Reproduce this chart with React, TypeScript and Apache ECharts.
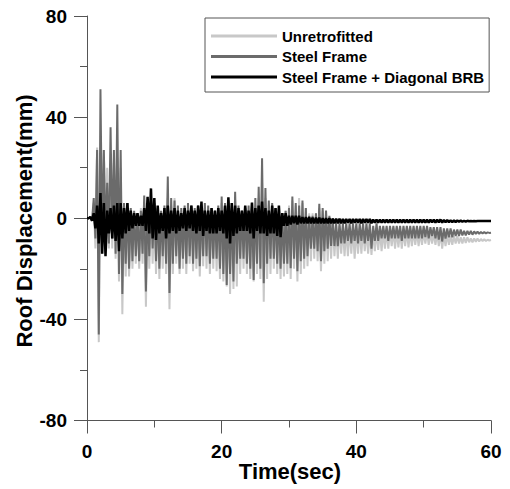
import { useEffect, useRef } from "react";
import * as echarts from "echarts";

// Sample spacing of the digitised records (seconds)
const SAMPLE_STEP = 0.25;

const seriesNames = ["Unretrofitted", "Steel Frame", "Steel Frame + Diagonal BRB"];
const seriesColors = ["#c8c8c8", "#6b6b6b", "#000000"];

// Roof displacement (mm), alternating peak / trough every 0.25 s
const unretrofitted = [
  0, 0, 0.5, -1, 6, -12, 28, -49,          // 0-2
  20, -14, 27, -8, 20, -12, 22, -12,       // 2-4
  22, -16, 24, -25, 20, -38, 5, -23,       // 4-6
  4, -23, 3, -20, 2, -18, 2, -20,          // 6-8
  4, -18, 6, -35, 3, -20, 4, -18,          // 8-10
  4, -22, 3, -24, 2, -20, 4, -22,          // 10-12
  8, -36, 5, -22, 8, -18, 4, -22,          // 12-14
  3, -20, 4, -22, 5, -18, 3, -21,          // 14-16
  3, -20, 4, -23, 3, -19, 4, -20,          // 16-18
  3, -22, 3, -20, 2, -21, 4, -24,          // 18-20
  6, -25, 4, -27, 5, -30, 4, -28,          // 20-22
  7, -27, 4, -22, 2, -20, 3, -22,          // 22-24
  3, -24, 4, -25, 5, -22, 8, -24,          // 24-26
  14, -33, 8, -24, 5, -22, 4, -20,         // 26-28
  3, -22, 2, -24, 2, -23, 3, -22,          // 28-30
  5, -24, 7, -20, 5, -25, 8, -22,          // 30-32
  6, -20, 4, -19, 2, -17, 2, -16,          // 32-34
  2, -17, 4, -21, 3, -18, 2, -17,          // 34-36
  0, -16, -1, -15, -3, -16, -3, -14,       // 36-38
  -4, -15, -4, -15, -4, -14, -4, -16,      // 38-40
  -4, -14, -4, -14, -4, -13, -5, -14,      // 40-42
  -5, -14.5, -5, -13, -5, -12.5, -5, -13,  // 42-44
  -5, -12, -5, -12, -5, -11, -5, -12,      // 44-46
  -5, -11.5, -5, -12, -5, -11, -5, -11.5,  // 46-48
  -5, -11, -5, -10.5, -5.5, -11, -5.5, -10.5, // 48-50
  -5.5, -10, -5.5, -10.5, -6, -10, -6, -10.5, // 50-52
  -6, -11, -6, -12, -6.5, -11, -6.5, -10.5,   // 52-54
  -7, -10.5, -7, -10, -7, -10, -7.5, -10,     // 54-56
  -7.5, -9.8, -7.5, -9.5, -8, -9.5, -8, -9.3, // 56-58
  -8, -9.2, -8.2, -9, -8.3, -9, -8.5, -8.8,   // 58-60
  -8.6,
];

const steelFrame = [
  0, 0, 0.5, -1, 8, -8, 27, -46,           // 0-2
  51, -10, 27, -6, 14, -10, 36, -8,        // 2-4
  27, -14, 45, -22, 27, -30, 6, -18,       // 4-6
  6, -20, 4, -17, 3, -15, 2, -17,          // 6-8
  3, -14, 9, -29, 6, -15, 8, -12,          // 8-10
  6, -17, 4, -20, 3, -15, 5, -18,          // 10-12
  16.5, -29.6, 8, -18, 7, -15, 5, -20,     // 12-14
  4, -16, 5, -18, 6, -15, 5, -18,          // 14-16
  4, -16, 5, -19, 4, -15, 6, -15,          // 16-18
  5, -18, 4, -16, 3, -16, 5, -20,          // 18-20
  8.6, -22, 6, -26.4, 7, -22, 5, -25,      // 20-22
  10.5, -18, 5, -16, 3, -16, 4, -18,       // 22-24
  5, -20, 6, -24.4, 8, -18, 12.5, -20,     // 24-26
  23.7, -25.7, 12, -18, 7, -16, 6, -16,    // 26-28
  4, -18, 3, -20, 2, -18, 3, -18,          // 28-30
  4, -19.8, 8.6, -16, 6, -21, 5, -17,      // 30-32
  7, -16, 4, -15, 1, -12, 1, -12,          // 32-34
  2, -13, 5.7, -17, 4, -13, 3, -12,        // 34-36
  1, -11, 0, -11, -2, -11, -2, -10,        // 36-38
  -2, -10, -2, -9, -2, -10, -2, -9,        // 38-40
  -2, -10, -2, -9, -2, -10, -2, -9,        // 40-42
  -2, -12, -3, -9, -2, -9, -3, -8,         // 42-44
  -3, -8, -3, -9, -3, -8, -3, -8,          // 44-46
  -3, -8, -3, -9, -3, -8, -3, -8,          // 46-48
  -3, -8, -3, -8, -3, -8, -3, -8,          // 48-50
  -3, -7.5, -3, -8, -3.5, -7, -3.5, -8,    // 50-52
  -3.5, -8.5, -3.5, -9.2, -4, -8, -4, -7.5, // 52-54
  -4, -7.5, -4.5, -7, -4.5, -7, -4.5, -6.8, // 54-56
  -5, -6.8, -5, -6.5, -5, -6.5, -5.2, -6.2, // 56-58
  -5.3, -6.2, -5.4, -6, -5.5, -6, -5.6, -5.8, // 58-60
  -5.7,
];

const diagonalBrb = [
  0, 0, 0.5, -1, 2, -4, 5, -10,            // 0-2
  10, -14, 6, -15, 3, -6, 4, -8,           // 2-4
  5, -9, 6, -13, 6, -8, 4, -6,             // 4-6
  6, -5, 3, -4, 2, -3, 2, -3,              // 6-8
  1, -3, 4, -5, 8.5, -6, 11.8, -8,         // 8-10
  8, -8.6, 5, -6, 2, -5, 4, -8,            // 10-12
  5, -6, 3, -5, 4, -6, 3, -5,              // 12-14
  2, -4, 4, -5, 3, -4, 5, -5,              // 14-16
  3, -6, 5, -5, 6.6, -7, 3, -5,            // 16-18
  3, -6, 4, -6, 3, -6, 4, -5,              // 18-20
  3, -6, 5, -8, 8.3, -10, 6, -7,           // 20-22
  5, -6, 4, -5, 3, -5, 5, -5,              // 22-24
  3, -6, 6.2, -8, 4, -5, 5, -6,            // 24-26
  6.6, -6, 4, -7, 3, -6, 5, -6,            // 26-28
  4, -7, 5, -7.5, 2, -3, 2, -3,            // 28-30
  1, -2.5, 1, -2, 1, -2.5, 1, -2,          // 30-32
  0.5, -2, 0.5, -2, 0.5, -2, 0.3, -2,      // 32-34
  0.3, -2, 0.3, -2, 0, -2, 0, -2,          // 34-36
  0, -2, -0.2, -2, -0.2, -2, -0.2, -2,     // 36-38
  -0.3, -2, -0.3, -1.8, -0.3, -2, -0.3, -1.8,     // 38-40
  -0.3, -1.8, -0.3, -2, -0.3, -1.8, -0.3, -1.8,   // 40-42
  -0.3, -2, -0.5, -1.8, -0.5, -1.8, -0.5, -1.8,   // 42-44
  -0.5, -1.8, -0.5, -1.8, -0.5, -1.8, -0.5, -1.8, // 44-46
  -0.5, -1.8, -0.5, -1.8, -0.5, -1.8, -0.5, -1.8, // 46-48
  -0.5, -1.8, -0.5, -1.7, -0.5, -1.8, -0.5, -1.7, // 48-50
  -0.6, -1.7, -0.6, -1.7, -0.6, -1.6, -0.6, -1.7, // 50-52
  -0.6, -1.6, -0.5, -1.7, -0.7, -1.6, -0.7, -1.6, // 52-54
  -0.8, -1.5, -0.8, -1.5, -0.9, -1.4, -0.9, -1.4, // 54-56
  -1, -1.3, -1, -1.2, -1.1, -1.2, -1.1, -1.2,     // 56-58
  -1.1, -1.1, -1.1, -1.1, -1.1, -1.1, -1.1, -1.1, // 58-60
  -1.1,
];

const X_MIN = 0;
const X_MAX = 60;
const X_INTERVAL = 20;
const Y_MIN = -80;
const Y_MAX = 80;
const Y_INTERVAL = 40;

const FONT = '"Liberation Sans", Arial, sans-serif';
const AXIS_COLOR = "#555555";

const toPairs = (vals: number[]) => vals.map((v, i) => [i * SAMPLE_STEP, v]);

export default function App() {
  const ref = useRef<HTMLDivElement>(null);

  useEffect(() => {
    document.body.style.margin = "0";
    if (!ref.current) return;
    const chart = echarts.init(ref.current, undefined, { renderer: "svg" });
    const allData = [unretrofitted, steelFrame, diagonalBrb];
    const widths = [2, 2, 2.5];

    chart.setOption({
      animation: false,
      backgroundColor: "#ffffff",
      grid: { left: 87, right: 19, top: 16, bottom: 68.5, containLabel: false },
      legend: {
        orient: "vertical",
        left: 205,
        top: 18,
        padding: [10.5, 5, 7.5, 6],
        itemGap: 5.5,
        itemWidth: 66,
        itemHeight: 3,
        icon: "rect",
        borderColor: AXIS_COLOR,
        borderWidth: 1,
        borderRadius: 0,
        backgroundColor: "#ffffff",
        textStyle: { fontSize: 15, fontWeight: "bold", color: "#000", fontFamily: FONT, lineHeight: 15 },
        data: seriesNames,
      },
      xAxis: {
        type: "value",
        min: X_MIN,
        max: X_MAX,
        interval: X_INTERVAL,
        axisLine: { show: true, onZero: false, lineStyle: { color: AXIS_COLOR, width: 1 } },
        axisTick: { show: true, length: 13, lineStyle: { color: AXIS_COLOR, width: 1 } },
        minorTick: { show: true, splitNumber: 2, length: 7, lineStyle: { color: AXIS_COLOR, width: 1 } },
        splitLine: { show: false },
        axisLabel: { margin: 21, fontSize: 19, fontWeight: "bold", color: "#000", fontFamily: FONT },
      },
      yAxis: {
        type: "value",
        min: Y_MIN,
        max: Y_MAX,
        interval: Y_INTERVAL,
        axisLine: { show: true, onZero: false, lineStyle: { color: AXIS_COLOR, width: 1 } },
        axisTick: { show: true, length: 13, lineStyle: { color: AXIS_COLOR, width: 1 } },
        minorTick: { show: true, splitNumber: 2, length: 7, lineStyle: { color: AXIS_COLOR, width: 1 } },
        splitLine: { show: false },
        axisLabel: { margin: 20, fontSize: 19, fontWeight: "bold", color: "#000", fontFamily: FONT },
      },
      graphic: [
        {
          type: "text",
          x: 290,
          y: 471,
          style: {
            text: "Time(sec)",
            font: `bold 22px ${FONT}`,
            fill: "#000",
            textAlign: "center",
            textVerticalAlign: "middle",
            align: "center",
            verticalAlign: "middle",
          },
        },
        {
          type: "text",
          x: 24,
          y: 221,
          rotation: Math.PI / 2,
          style: {
            text: "Roof Displacement(mm)",
            font: `bold 22px ${FONT}`,
            fill: "#000",
            textAlign: "center",
            textVerticalAlign: "middle",
            align: "center",
            verticalAlign: "middle",
          },
        },
      ],
      series: seriesNames.map((name, k) => ({
        name,
        type: "line",
        data: toPairs(allData[k]),
        symbol: "none",
        showSymbol: false,
        color: seriesColors[k],
        itemStyle: { color: seriesColors[k] },
        lineStyle: { color: seriesColors[k], width: widths[k] },
        z: 2 + k,
      })),
    });

    return () => chart.dispose();
  }, []);

  return <div ref={ref} style={{ width: 510, height: 489 }} />;
}
